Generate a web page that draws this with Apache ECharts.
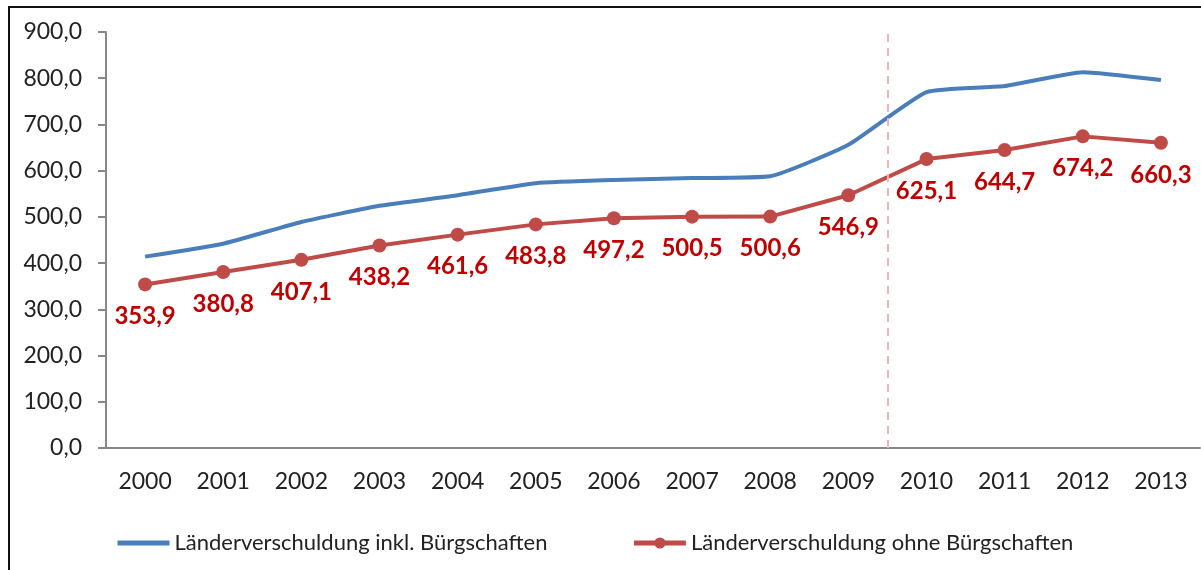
<!DOCTYPE html>
<html>
<head>
<meta charset="utf-8">
<script src="https://cdn.jsdelivr.net/npm/echarts@6/dist/echarts.min.js"></script>
<style>
  html, body { margin: 0; padding: 0; background: #fff; }
  #frame {
    position: absolute; left: 8px; top: 6px; width: 1193px; height: 564px;
    border-left: 2px solid #111; border-top: 2px solid #111;
  }
  #chart { position: absolute; left: 0; top: 0; width: 1201px; height: 570px; }
</style>
</head>
<body>
<div id="frame"></div>
<div id="chart"></div>
<script>
// Jahre
const years = ["2000", "2001", "2002", "2003", "2004", "2005", "2006",
               "2007", "2008", "2009", "2010", "2011", "2012", "2013"];
// inkl. Bürgschaften (aus der Grafik geschätzt)
const inklBuergschaften = [414, 442, 489, 524, 547, 573, 580, 584, 588, 656, 770, 783, 813, 796];
// ohne Bürgschaften (Beschriftungen)
const ohneBuergschaften = [353.9, 380.8, 407.1, 438.2, 461.6, 483.8, 497.2,
                           500.5, 500.6, 546.9, 625.1, 644.7, 674.2, 660.3];
const yTicks = { min: 0, max: 900, interval: 100 };
// Trennlinie zwischen 2009 und 2010 (Kategoriegrenze)
const breakAt = 10;

const fmt = v => v.toFixed(1).replace(".", ",");
const font = "Lato, 'Open Sans', sans-serif";

let chart = echarts.init(document.getElementById("chart"));
chart.setOption({
  animation: false,
  textStyle: { fontFamily: font },
  grid: { left: 106, right: 1, top: 32, bottom: 122 },
  legend: {
    left: 110,
    top: 527,
    itemWidth: 52,
    itemHeight: 14,
    itemGap: 84,
    textStyle: { fontSize: 22, color: "#222", fontFamily: font },
    data: [
      {
        name: "Länderverschuldung inkl. Bürgschaften",
        itemStyle: { opacity: 0 },
        lineStyle: { width: 5, color: "#4a7ebb" }
      },
      {
        name: "Länderverschuldung ohne Bürgschaften",
        lineStyle: { width: 5, color: "#be4b48" }
      }
    ]
  },
  xAxis: [
    {
      type: "category",
      data: years,
      boundaryGap: true,
      axisLine: { lineStyle: { color: "#878787", width: 2 } },
      axisTick: { length: 8, lineStyle: { color: "#878787", width: 2 } },
      axisLabel: { fontSize: 23, color: "#222", margin: 22, interval: 0 }
    },
    {
      type: "value",
      min: 0,
      max: years.length,
      show: false
    }
  ],
  yAxis: {
    type: "value",
    min: yTicks.min,
    max: yTicks.max,
    interval: yTicks.interval,
    axisLine: { show: true, lineStyle: { color: "#878787", width: 2 } },
    axisTick: { show: true, length: 8, lineStyle: { color: "#878787", width: 2 } },
    splitLine: { show: false },
    axisLabel: { fontSize: 23, color: "#222", margin: 24, formatter: v => fmt(v) }
  },
  series: [
    {
      name: "Länderverschuldung inkl. Bürgschaften",
      type: "line",
      data: inklBuergschaften,
      showSymbol: false,
      symbol: "none",
      smooth: 0.15,
      lineStyle: { color: "#4a7ebb", width: 4 },
      itemStyle: { color: "#4a7ebb" }
    },
    {
      name: "Länderverschuldung ohne Bürgschaften",
      type: "line",
      data: ohneBuergschaften,
      symbol: "circle",
      symbolSize: 14,
      lineStyle: { color: "#be4b48", width: 4 },
      itemStyle: { color: "#be4b48" },
      label: {
        show: true,
        position: "bottom",
        distance: 13,
        fontSize: 24,
        fontWeight: "bold",
        color: "#c00000",
        fontFamily: font,
        formatter: p => fmt(p.value)
      }
    },
    {
      type: "line",
      xAxisIndex: 1,
      data: [],
      markLine: {
        silent: true,
        symbol: "none",
        label: { show: false },
        lineStyle: { color: "#f2b3bb", type: [8, 6], width: 2 },
        data: [{ xAxis: breakAt }]
      }
    }
  ]
});
</script>
</body>
</html>
